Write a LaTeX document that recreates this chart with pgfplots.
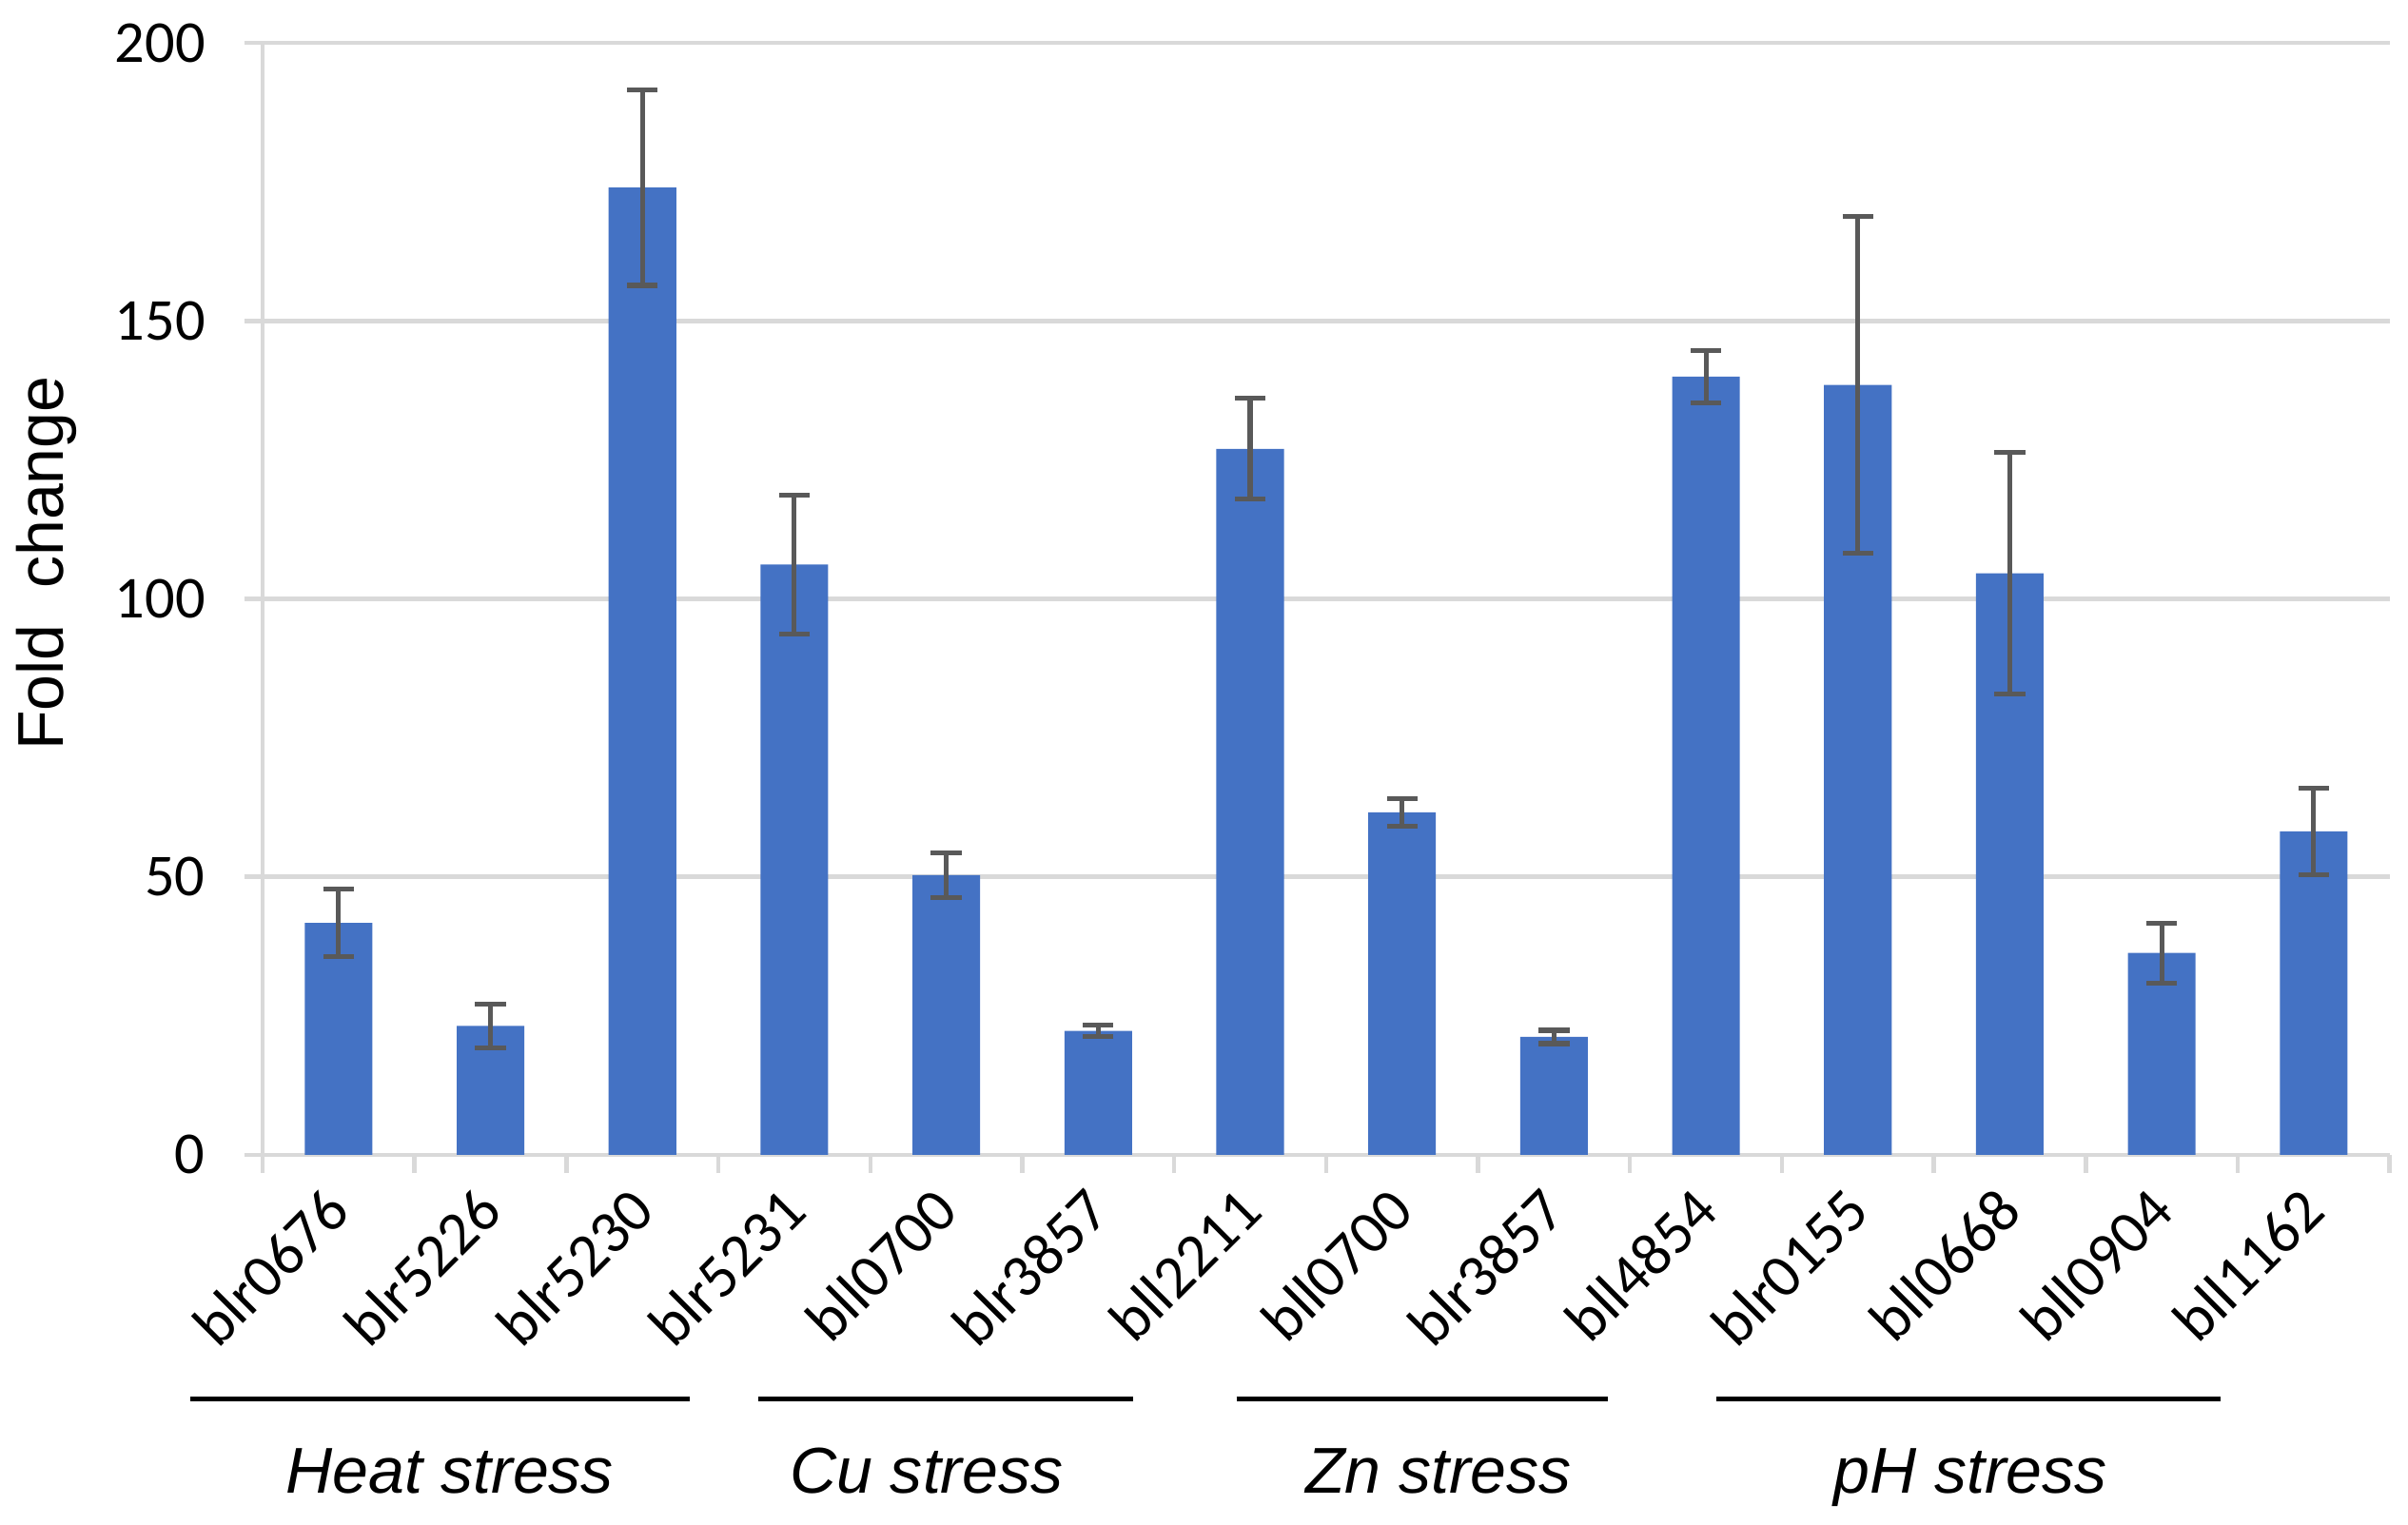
\documentclass[border=0pt]{standalone}
\usepackage{pgfplots}
\pgfplotsset{compat=1.18}
\usepackage{pgfplotstable}
\usepackage{fontspec}
\setmainfont{Liberation Sans}
\newfontfamily\carlito{Carlito}

\definecolor{barblue}{HTML}{4472C4}
\definecolor{errgray}{HTML}{595959}
\definecolor{gridgray}{HTML}{D9D9D9}

% x = category index, y = fold change, e = error
\pgfplotstableread{
x y e
0 41.7 6.1
1 23.2 3.9
2 174.0 17.6
3 106.2 12.5
4 50.3 4.0
5 22.3 1.0
6 127.0 9.1
7 61.6 2.5
8 21.2 1.2
9 140.0 4.7
10 138.5 30.3
11 104.6 21.7
12 36.3 5.4
13 58.2 7.8
}\foldtable

\begin{document}
\begin{tikzpicture}
\path[use as bounding box] (-1.71,-2.41) rectangle (13.97,7.52);
\begin{axis}[
  scale only axis,
  width=13.85cm, height=7.24cm,
  xmin=-0.5, xmax=13.5,
  ymin=0, ymax=200,
  ytick={0,50,...,200},
  xtick={-0.5,0.5,...,13.5},
  xticklabels={blr0676,blr5226,blr5230,blr5231,bll0700,blr3857,bll2211,bll0700,blr3857,bll4854,blr0155,bll0668,bll0904,bll1162,{}},
  axis x line*=bottom,
  axis y line*=left,
  axis line style={draw=gridgray, line width=0.8pt},
  tick style={draw=gridgray, line width=0.8pt},
  major tick length=0.12cm,
  tick align=outside,
  ymajorgrids,
  grid style={draw=gridgray, line width=0.8pt},
  /pgf/number format/assume math mode=true,
  yticklabel style={font=\carlito\fontsize{11}{13}\selectfont, xshift=-0.13cm},
  xticklabel style={xshift=0.4946cm, rotate=45, anchor=east, font=\carlito\fontsize{11.3}{13}\selectfont, yshift=-0.12cm},
  ylabel={Fold\ \ change},
  every axis y label/.style={at={(axis description cs:-0.1018,0.532)}, rotate=90, anchor=center, font=\fontsize{12}{14}\selectfont},
  clip=false,
]
\addplot[ybar, bar width=0.44cm, fill=barblue, draw=none,
  error bars/.cd, y dir=both, y explicit,
  error bar style={line width=0.9pt, color=errgray},
  error mark options={rotate=90, mark size=0.1cm, line width=0.9pt, color=errgray}]
  table[x=x, y=y, y error=e] {\foldtable};

\draw[line width=0.9pt] (axis cs:-0.975,-43.9) -- (axis cs:2.31,-43.9);
\draw[line width=0.9pt] (axis cs:2.765,-43.9) -- (axis cs:5.23,-43.9);
\draw[line width=0.9pt] (axis cs:5.91,-43.9) -- (axis cs:8.355,-43.9);
\draw[line width=0.9pt] (axis cs:9.07,-43.9) -- (axis cs:12.39,-43.9);
\tikzset{grp/.style={font=\itshape\fontsize{12}{14}\selectfont, text height=1.8ex, text depth=0.5ex}}
\node[grp] at (axis cs:0.733,-57.5) {Heat stress};
\node[grp] at (axis cs:3.87,-57.5) {Cu stress};
\node[grp] at (axis cs:7.24,-57.5) {Zn stress};
\node[grp] at (axis cs:10.74,-57.5) {pH stress};
\end{axis}
\end{tikzpicture}
\end{document}
